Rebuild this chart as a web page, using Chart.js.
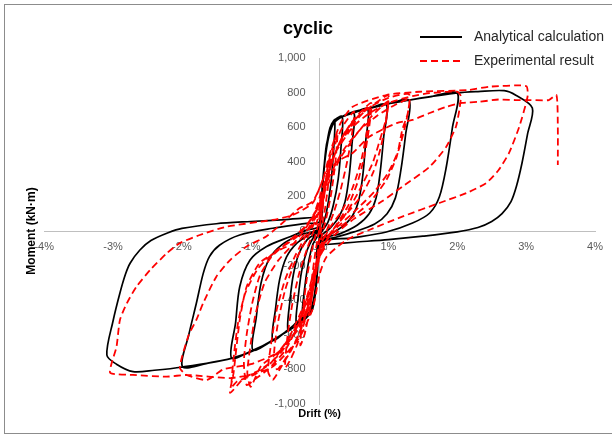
<!DOCTYPE html>
<html>
<head>
<meta charset="utf-8">
<title>cyclic</title>
<script src="https://cdn.jsdelivr.net/npm/chart.js@4.4.0/dist/chart.umd.min.js"></script>
<style>
  html, body { margin: 0; padding: 0; background: #fff; }
  #wrap { position: relative; width: 612px; height: 437px; overflow: hidden; }
  #frame { position: absolute; left: 4px; top: 4px; width: 640px; height: 428px; border: 1px solid #8c8c8c; }
  #chart { position: absolute; left: 0; top: 0; }
</style>
</head>
<body>
<div id="wrap">
  <div id="frame"></div>
  <canvas id="chart" width="612" height="437"></canvas>
</div>
<script>
// drift (%) , moment (kN·m)
const analytical = [
  [0,0],[0.04,250],[0.09,450],[0.15,590],[0.22,642],
  [0.2,450],[0.16,260],[0.1,110],[0.03,10],[0,-20],
  [-0.03,-200],[-0.08,-380],[-0.15,-470],[-0.25,-500],
  [-0.22,-340],[-0.17,-200],[-0.1,-80],[0,0],
  [0.04,250],[0.09,450],[0.15,590],[0.22,642],[0.33,661],
  [0.31,480],[0.27,300],[0.2,150],[0.12,50],[0,-30],
  [-0.03,-210],[-0.08,-390],[-0.15,-470],[-0.25,-500],[-0.34,-530],
  [-0.31,-380],[-0.26,-230],[-0.18,-110],[-0.08,-30],[0,10],
  [0.04,260],[0.09,460],[0.15,595],[0.22,642],[0.33,661],[0.5,684],
  [0.47,500],[0.43,320],[0.37,170],[0.28,80],[0.15,15],[0,-40],
  [-0.03,-220],[-0.08,-400],[-0.15,-475],[-0.25,-505],[-0.34,-530],[-0.46,-572],
  [-0.43,-400],[-0.38,-250],[-0.3,-130],[-0.18,-50],[0,10],
  [0.04,270],[0.1,480],[0.16,600],[0.22,642],[0.33,661],[0.5,684],[0.7,705],
  [0.67,520],[0.63,330],[0.57,180],[0.48,90],[0.33,25],[0.15,-20],[0,-50],
  [-0.03,-230],[-0.08,-410],[-0.16,-485],[-0.25,-505],[-0.34,-532],[-0.46,-572],[-0.68,-630],
  [-0.64,-450],[-0.58,-280],[-0.48,-150],[-0.33,-70],[-0.15,-20],[0,15],
  [0.05,280],[0.1,490],[0.17,605],[0.25,648],[0.35,664],[0.5,684],[0.7,705],[0.97,730],
  [0.93,540],[0.88,340],[0.82,190],[0.72,100],[0.55,35],[0.3,-15],[0,-55],
  [-0.04,-240],[-0.09,-420],[-0.17,-490],[-0.25,-508],[-0.46,-574],[-0.68,-632],[-0.97,-688],
  [-0.92,-500],[-0.85,-300],[-0.73,-160],[-0.55,-80],[-0.3,-25],[0,20],
  [0.05,290],[0.1,500],[0.18,610],[0.27,650],[0.5,686],[0.7,706],[0.97,731],[1.3,755],
  [1.25,560],[1.18,350],[1.1,190],[0.98,100],[0.8,40],[0.5,-5],[0.2,-40],[0,-60],
  [-0.04,-250],[-0.1,-430],[-0.18,-495],[-0.3,-520],[-0.46,-575],[-0.68,-633],[-0.97,-690],[-1.28,-734],
  [-1.22,-530],[-1.16,-322],[-1.01,-168],[-0.77,-90],[-0.43,-33],[-0.19,5],[0,30],
  [0.05,300],[0.11,510],[0.19,615],[0.3,655],[0.5,688],[0.97,732],[1.3,756],[1.6,775],[2.0,797],
  [1.93,600],[1.84,370],[1.74,198],[1.6,104],[1.35,46],[0.97,-6],[0.48,-40],[0,-69],
  [-0.04,-260],[-0.1,-440],[-0.2,-500],[-0.34,-535],[-0.46,-576],[-0.68,-634],[-0.97,-692],[-1.28,-736],[-1.6,-762],[-1.99,-784],
  [-1.9,-600],[-1.79,-418],[-1.69,-245],[-1.6,-148],[-1.45,-81],[-1.16,-23],[-0.68,16],[-0.19,44],[0,55],
  [0.05,310],[0.12,520],[0.2,620],[0.33,662],[0.5,690],[0.97,734],[1.3,757],[2.0,798],[2.3,806],[2.68,811],[2.85,785],[3.09,711],
  [3.02,560],[2.94,393],[2.86,260],[2.78,170],[2.65,100],[2.5,55],[2.3,20],[2.0,-5],[1.5,-30],[1.0,-50],[0.5,-65],[0.1,-78],[0,-82],
  [-0.04,-280],[-0.1,-450],[-0.2,-505],[-0.46,-578],[-0.97,-694],[-1.28,-737],[-1.99,-786],[-2.4,-805],[-2.71,-813],[-2.95,-770],[-3.09,-717],
  [-3.0,-520],[-2.9,-358],[-2.82,-250],[-2.75,-185],[-2.61,-110],[-2.45,-55],[-2.2,-10],[-2.0,15],[-1.5,42],[-1.0,55],[-0.5,66],[-0.1,78]
];

const experimental = [
  [0,0],[0.05,150],[0.1,300],[0.15,420],[0.12,250],[0.06,80],[0,-40],[-0.05,-200],[-0.1,-350],[-0.15,-480],[-0.12,-300],[-0.06,-120],[0,20],
  [0.06,200],[0.12,380],[0.2,500],[0.26,570],[0.23,400],[0.17,220],[0.1,80],[0.02,-50],[-0.06,-250],[-0.14,-450],[-0.22,-600],[-0.28,-660],[-0.24,-450],[-0.18,-260],[-0.1,-90],[-0.02,40],
  [0.06,220],[0.15,400],[0.25,530],[0.36,620],[0.5,690],[0.47,560],[0.4,400],[0.3,230],[0.2,100],[0.08,-20],[0,-100],[-0.1,-320],[-0.2,-500],[-0.32,-650],[-0.42,-740],[-0.5,-790],[-0.47,-620],[-0.4,-430],[-0.3,-250],[-0.18,-100],[-0.05,40],
  [0.05,180],[0.15,360],[0.3,520],[0.45,620],[0.6,690],[0.75,740],[0.72,600],[0.65,430],[0.55,280],[0.42,150],[0.25,40],[0.1,-50],[0,-130],[-0.1,-330],[-0.25,-540],[-0.4,-680],[-0.55,-780],[-0.68,-860],[-0.75,-810],[-0.7,-640],[-0.62,-450],[-0.5,-280],[-0.35,-140],[-0.15,10],[-0.02,110],
  [0.08,250],[0.2,420],[0.35,560],[0.55,660],[0.72,720],[0.68,560],[0.6,400],[0.48,250],[0.33,120],[0.15,20],[0,-100],[-0.12,-380],[-0.3,-600],[-0.48,-730],[-0.62,-800],[-0.66,-700],[-0.6,-520],[-0.5,-340],[-0.36,-180],[-0.18,-40],[-0.03,90],
  [0.1,300],[0.25,470],[0.45,600],[0.65,690],[0.85,750],[1.0,785],[0.96,640],[0.89,545],[0.77,393],[0.58,237],[0.39,104],[0.19,6],[0.05,-90],[-0.1,-300],[-0.3,-530],[-0.5,-690],[-0.75,-800],[-0.95,-860],[-1.06,-890],[-1.1,-760],[-1.06,-600],[-0.98,-420],[-0.87,-260],[-0.7,-150],[-0.45,-60],[-0.2,30],[-0.05,120],
  [0.1,250],[0.3,420],[0.5,540],[0.7,640],[0.9,720],[1.0,750],[0.95,600],[0.88,470],[0.78,340],[0.6,200],[0.35,80],[0.1,-40],[0,-120],[-0.15,-350],[-0.35,-560],[-0.6,-700],[-0.85,-780],[-1.0,-900],[-1.05,-820],[-1.0,-650],[-0.93,-480],[-0.8,-300],[-0.6,-170],[-0.35,-60],[-0.1,80],
  [0.1,320],[0.3,520],[0.5,640],[0.75,720],[1.0,770],[1.3,790],[1.28,680],[1.2,584],[1.12,430],[0.97,295],[0.72,162],[0.43,64],[0.14,-33],[0,-150],[-0.15,-380],[-0.35,-580],[-0.6,-720],[-0.85,-800],[-1.1,-850],[-1.3,-936],[-1.25,-821],[-1.16,-514],[-1.06,-322],[-0.87,-185],[-0.58,-110],[-0.29,-52],[-0.1,60],
  [0.1,280],[0.35,470],[0.6,590],[0.85,670],[1.1,730],[1.3,760],[1.25,620],[1.15,470],[1.0,340],[0.8,230],[0.5,110],[0.2,0],[0,-120],[-0.2,-400],[-0.45,-620],[-0.7,-760],[-0.95,-830],[-1.2,-870],[-1.28,-900],[-1.24,-700],[-1.18,-520],[-1.08,-360],[-0.9,-220],[-0.65,-120],[-0.35,-40],[-0.1,80],
  [0.05,200],[0.2,430],[0.48,600],[0.72,680],[1.0,740],[1.35,780],[1.6,797],[2.0,805],[2.05,780],[2.03,700],[1.98,603],[1.84,487],[1.6,372],[1.2,256],[0.9,170],[0.5,70],[0.2,-30],[0,-150],[-0.1,-350],[-0.3,-560],[-0.6,-700],[-1.0,-770],[-1.4,-800],[-1.64,-861],[-1.93,-832],[-2.03,-790],[-1.9,-600],[-1.79,-514],[-1.69,-416],[-1.5,-264],[-1.3,-168],[-1.06,-90],[-0.77,-30],[-0.5,60],[-0.3,130],[-0.1,170],
  [0.05,300],[0.15,450],[0.3,620],[0.48,718],[0.97,786],[1.45,805],[2.17,815],[2.46,834],[3.0,838],[3.02,776],[2.9,603],[2.75,450],[2.6,353],[2.42,277],[2.13,219],[1.74,162],[1.2,83],[0.72,6],[0.39,-52],[0.1,-150],[0,-250],[-0.1,-450],[-0.3,-620],[-0.68,-784],[-1.0,-830],[-1.3,-850],[-1.93,-832],[-2.22,-842],[-2.71,-832],[-3.04,-821],[-3.02,-763],[-2.95,-670],[-2.9,-514],[-2.8,-418],[-2.66,-322],[-2.46,-225],[-2.22,-129],[-2.03,-70],[-1.74,-23],[-1.35,25],[-0.68,64],[-0.39,92],[-0.1,162],
  [0.05,300],[0.1,330],[0.25,400],[0.48,451],[0.72,545],[1.12,624],[1.35,642],[1.6,682],[1.84,718],[2.07,740],[2.32,747],[2.6,760],[2.85,757],[3.04,757],[3.33,757],[3.44,786],[3.46,600],[3.46,381]
];

const driftTicks = [-4, -3, -2, -1, 0, 1, 2, 3, 4];
const momentTicks = [-1000, -800, -600, -400, -200, 0, 200, 400, 600, 800, 1000];

const FONT = '"Liberation Sans", Arial, sans-serif';
const tickGray = '#595959';
const axisGray = '#bfbfbf';

function toPoints(list) {
  return list.map(function(p) { return {x: p[0], y: p[1]}; });
}

// legend in the top right corner, two rows
const cornerLegend = {
  id: 'cornerLegend',
  afterDraw(chart) {
    const ctx = chart.ctx;
    chart.data.datasets.forEach(function(ds, i) {
      const y = 37 + i * 24;
      ctx.save();
      ctx.strokeStyle = ds.borderColor;
      ctx.lineWidth = 2;
      ctx.setLineDash(ds.borderDash || []);
      ctx.beginPath();
      ctx.moveTo(420, y);
      ctx.lineTo(462, y);
      ctx.stroke();
      ctx.setLineDash([]);
      ctx.fillStyle = '#262626';
      ctx.font = '14px ' + FONT;
      ctx.textBaseline = 'middle';
      ctx.fillText(ds.label, 474, y);
      ctx.restore();
    });
  }
};

new Chart(document.getElementById('chart'), {
  type: 'scatter',
  data: {
    datasets: [{
      label: 'Analytical calculation',
      data: toPoints(analytical),
      showLine: true,
      borderColor: '#000000',
      borderWidth: 1.7,
      pointRadius: 0,
      tension: 0.3,
      order: 2
    }, {
      label: 'Experimental result',
      data: toPoints(experimental),
      showLine: true,
      borderColor: '#ff0000',
      borderWidth: 1.8,
      borderDash: [7, 4],
      pointRadius: 0,
      tension: 0.2,
      order: 1
    }]
  },
  options: {
    responsive: false,
    animation: false,
    layout: { padding: { left: 20.8, right: 17, top: 0, bottom: 12.4 } },
    plugins: {
      legend: { display: false },
      tooltip: { enabled: false },
      title: {
        display: true,
        text: 'cyclic',
        color: '#000',
        font: { family: FONT, size: 18, weight: 'bold' },
        padding: { top: 18.2, bottom: 18.2 }
      }
    },
    scales: {
      x: {
        type: 'linear',
        position: 'center',
        min: driftTicks[0],
        max: driftTicks[driftTicks.length - 1],
        afterBuildTicks: function(scale) { scale.ticks = driftTicks.map(function(v) { return {value: v}; }); },
        ticks: {
          color: tickGray,
          font: { family: FONT, size: 11 },
          padding: 9,
          maxRotation: 0,
          callback: function(v) { return v + '%'; }
        },
        grid: { display: false, drawTicks: false },
        border: { color: axisGray, width: 1 }
      },
      y: {
        type: 'linear',
        position: 'center',
        min: momentTicks[0],
        max: momentTicks[momentTicks.length - 1],
        afterBuildTicks: function(scale) { scale.ticks = momentTicks.map(function(v) { return {value: v}; }); },
        ticks: {
          color: tickGray,
          font: { family: FONT, size: 11 },
          padding: 14,
          callback: function(v) { return v.toLocaleString('en-US'); }
        },
        grid: { display: false, drawTicks: false },
        border: { color: axisGray, width: 1 }
      },
      xt: {
        type: 'linear',
        axis: 'x',
        position: 'bottom',
        display: true,
        min: 0, max: 1,
        ticks: { display: false },
        grid: { display: false, drawTicks: false },
        border: { display: false },
        title: {
          display: true,
          text: 'Drift (%)',
          color: '#000',
          font: { family: FONT, size: 11, weight: 'bold' },
          padding: { top: 3.4, bottom: 4 }
        }
      },
      yt: {
        type: 'linear',
        axis: 'y',
        position: 'left',
        display: true,
        min: 0, max: 1,
        ticks: { display: false },
        grid: { display: false, drawTicks: false },
        border: { display: false },
        title: {
          display: true,
          text: 'Moment (kN·m)',
          color: '#000',
          font: { family: FONT, size: 12, weight: 'bold' },
          padding: { top: 4, bottom: 5 }
        }
      }
    }
  },
  plugins: [cornerLegend]
});
</script>
</body>
</html>
